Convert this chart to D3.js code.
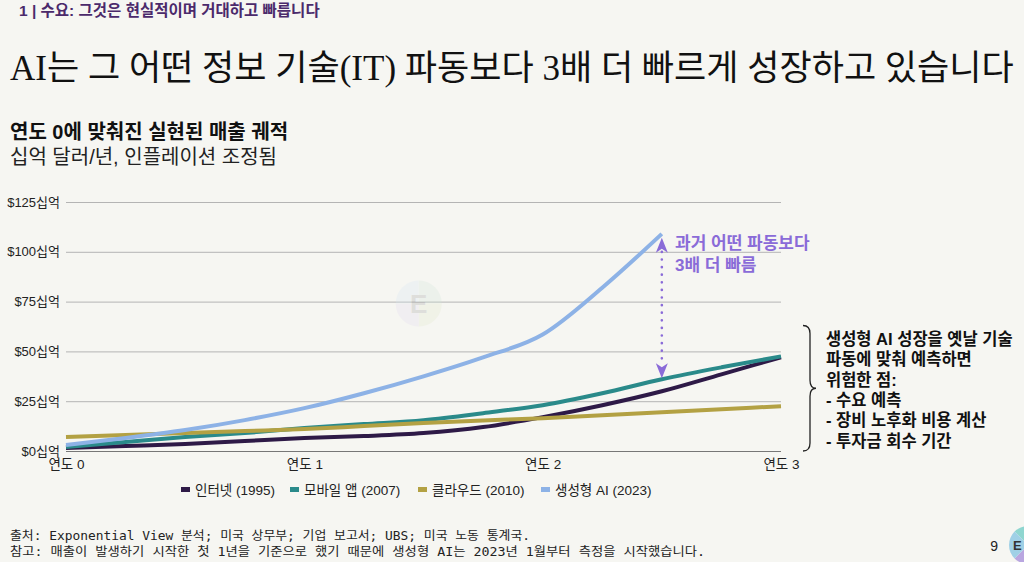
<!DOCTYPE html>
<html>
<head>
<meta charset="utf-8">
<script src="https://cdn.jsdelivr.net/npm/d3@7"></script>
<style>
  html, body { margin: 0; padding: 0; background: #f6f6f2; }
  svg { display: block; }
  text { font-family: "Liberation Sans", "Noto Sans CJK KR", sans-serif; }
</style>
</head>
<body>
<div id="chart"></div>
<script>
// years since revenue start, quarterly
const years = [0, 0.25, 0.5, 0.75, 1, 1.25, 1.5, 1.75, 2, 2.25, 2.5, 2.75, 3];
// $bn / year
const internet = [1.5, 2.5, 3.5, 5, 6.5, 7.5, 9, 12, 17, 23, 30, 38.5, 47];
const mobile   = [2, 4.5, 7, 9, 11.5, 13.5, 15.5, 19, 23, 29, 36, 42, 47.5];
const cloud    = [7, 8, 9, 10, 11, 12.5, 14, 15.3, 16.5, 18, 19.5, 21, 22.5];
const genAI    = [3, 6.5, 10.5, 15.5, 21.5, 29, 37.5, 47, 58.5, 82, 109];

const seriesNames = ["인터넷 (1995)", "모바일 앱 (2007)", "클라우드 (2010)", "생성형 AI (2023)"];
const seriesColors = ["#2e1a47", "#2a8a8a", "#b3a143", "#8db2e6"];
const yTicks = [0, 25, 50, 75, 100, 125];
const xTicks = [0, 1, 2, 3];
const arrowYear = 2.5, arrowTop = 107, arrowBottom = 36.5;
const braceTop = 63, braceBottom = 0;

const W = 1024, H = 562;
const svg = d3.select("#chart").append("svg")
    .attr("width", W).attr("height", H);

svg.append("rect").attr("width", W).attr("height", H).attr("fill", "#f6f6f2");

// header texts
svg.append("text")
    .attr("x", 19).attr("y", 16)
    .attr("font-size", 15.5).attr("font-weight", "bold")
    .attr("fill", "#4b2a6b")
    .text("1 | 수요: 그것은 현실적이며 거대하고 빠릅니다");

const title = svg.append("text")
    .attr("x", 10).attr("y", 80)
    .attr("font-size", 40)
    .attr("fill", "#111")
    .style("font-family", "'Liberation Serif', 'Noto Sans CJK KR', serif")
    .text("AI는 그 어떤 정보 기술(IT) 파동보다 3배 더 빠르게 성장하고 있습니다");
// size the title so it spans the slide width
const tl = title.node().getComputedTextLength();
title.attr("font-size", 40 * 1004 / tl);

svg.append("text")
    .attr("x", 10).attr("y", 139)
    .attr("font-size", 20).attr("font-weight", "bold")
    .attr("fill", "#111")
    .text("연도 0에 맞춰진 실현된 매출 궤적");

svg.append("text")
    .attr("x", 10).attr("y", 164)
    .attr("font-size", 20)
    .attr("fill", "#222")
    .text("십억 달러/년, 인플레이션 조정됨");

// scales
const x = d3.scaleLinear().domain([0, 3]).range([66, 781]);
const y = d3.scaleLinear().domain([0, 125]).range([451, 202]);

// y axis with gridlines
const yAxis = svg.append("g")
    .attr("transform", `translate(${x(0)},0)`)
    .call(d3.axisLeft(y)
        .tickValues(yTicks)
        .tickSize(-(x(3) - x(0)))
        .tickPadding(6)
        .tickFormat(d => `$${d}십억`));
yAxis.select(".domain").remove();
yAxis.selectAll(".tick line")
    .attr("stroke", d => d === 0 ? "#777" : "#b4b4b4")
    .attr("stroke-width", 1);
yAxis.selectAll(".tick text")
    .attr("font-size", 13).attr("fill", "#222")
    .style("font-family", "'Liberation Sans', 'Noto Sans CJK KR', sans-serif");

// x axis
const xAxis = svg.append("g")
    .attr("transform", `translate(0,${y(0)})`)
    .call(d3.axisBottom(x)
        .tickValues(xTicks)
        .tickSize(0)
        .tickPadding(8)
        .tickFormat(d => `연도 ${d}`));
xAxis.select(".domain").remove();
xAxis.selectAll(".tick text")
    .attr("font-size", 13.5).attr("fill", "#222")
    .style("font-family", "'Liberation Sans', 'Noto Sans CJK KR', sans-serif");

// faint watermark
const wm = svg.append("g").attr("opacity", 0.25)
    .attr("transform", `translate(${x(1.48)},${y(74)})`);
const wmCols = ["#cfe6d8", "#dfe7c8", "#e2d7f0", "#d5e6f2"];
d3.pie().value(1)([1, 1, 1, 1]).forEach((p, i) => {
    wm.append("path")
        .attr("d", d3.arc().innerRadius(0).outerRadius(23)(p))
        .attr("fill", wmCols[i]);
});
wm.append("text").attr("text-anchor", "middle").attr("dy", "0.36em")
    .attr("font-size", 26).attr("font-weight", "bold").attr("fill", "#999")
    .text("E");

// lines
const line = d3.line()
    .x((d, i) => x(years[i]))
    .y(d => y(d))
    .curve(d3.curveMonotoneX);

[internet, mobile, cloud, genAI].forEach((vals, i) => {
    svg.append("path")
        .datum(vals)
        .attr("d", line)
        .attr("fill", "none")
        .attr("stroke", seriesColors[i])
        .attr("stroke-width", 4)
        .attr("stroke-linecap", "butt");
});

// dotted double arrow
const ac = "#8a6bd8";
const ax = x(arrowYear);
svg.append("line")
    .attr("x1", ax).attr("x2", ax)
    .attr("y1", y(arrowTop) + 14).attr("y2", y(arrowBottom) - 14)
    .attr("stroke", ac).attr("stroke-width", 2.6)
    .attr("stroke-dasharray", "0.1 7.5").attr("stroke-linecap", "round");
svg.append("path")
    .attr("d", `M${ax},${y(arrowTop)} L${ax - 6},${y(arrowTop) + 15} L${ax},${y(arrowTop) + 11} L${ax + 6},${y(arrowTop) + 15} Z`)
    .attr("fill", ac);
svg.append("path")
    .attr("d", `M${ax},${y(arrowBottom)} L${ax - 6},${y(arrowBottom) - 15} L${ax},${y(arrowBottom) - 11} L${ax + 6},${y(arrowBottom) - 15} Z`)
    .attr("fill", ac);

svg.append("text")
    .attr("x", 675).attr("y", 249)
    .attr("font-size", 17).attr("font-weight", "bold").attr("fill", ac)
    .text("과거 어떤 파동보다");
svg.append("text")
    .attr("x", 675).attr("y", 271)
    .attr("font-size", 17).attr("font-weight", "bold").attr("fill", ac)
    .text("3배 더 빠름");

// curly brace
const bt = y(braceTop), bb = y(braceBottom), bm = (bt + bb) / 2;
const bx = 803;
svg.append("path")
    .attr("d", `M${bx},${bt} Q${bx + 7},${bt} ${bx + 7},${bt + 8} L${bx + 7},${bm - 8} Q${bx + 7},${bm} ${bx + 13},${bm}`
        + ` Q${bx + 7},${bm} ${bx + 7},${bm + 8} L${bx + 7},${bb - 8} Q${bx + 7},${bb} ${bx},${bb}`)
    .attr("fill", "none").attr("stroke", "#222").attr("stroke-width", 1.3);

const riskLines = ["생성형 AI 성장을 옛날 기술", "파동에 맞춰 예측하면", "위험한 점:",
    "-  수요 예측", "-  장비 노후화 비용 계산", "-  투자금 회수 기간"];
svg.append("g").selectAll("text")
    .data(riskLines)
    .join("text")
    .attr("x", 826)
    .attr("y", (d, i) => 345 + i * 20.3)
    .attr("font-size", 16.5).attr("font-weight", "bold").attr("fill", "#111")
    .text(d => d);

// legend
const legendX = [181, 290, 418, 541];
const lg = svg.append("g");
seriesNames.forEach((n, i) => {
    lg.append("rect")
        .attr("x", legendX[i]).attr("y", 487)
        .attr("width", 9).attr("height", 5)
        .attr("fill", seriesColors[i]);
    lg.append("text")
        .attr("x", legendX[i] + 14).attr("y", 494.5)
        .attr("font-size", 13.5).attr("fill", "#222")
        .text(n);
});

// footer
svg.append("text")
    .attr("x", 10).attr("y", 540)
    .attr("font-size", 12).attr("fill", "#222")
    .style("font-family", "'DejaVu Sans Mono', 'Noto Sans CJK KR', monospace")
    .attr("textLength", 520).attr("lengthAdjust", "spacingAndGlyphs")
    .text("출처: Exponential View 분석; 미국 상무부; 기업 보고서; UBS; 미국 노동 통계국.");
svg.append("text")
    .attr("x", 10).attr("y", 556)
    .attr("font-size", 12).attr("fill", "#222")
    .style("font-family", "'DejaVu Sans Mono', 'Noto Sans CJK KR', monospace")
    .attr("textLength", 695).attr("lengthAdjust", "spacingAndGlyphs")
    .text("참고: 매출이 발생하기 시작한 첫 1년을 기준으로 했기 때문에 생성형 AI는 2023년 1월부터 측정을 시작했습니다.");

// page number and logo
svg.append("text")
    .attr("x", 998).attr("y", 551)
    .attr("text-anchor", "end")
    .attr("font-size", 14).attr("fill", "#222")
    .text("9");
const logo = svg.append("g").attr("transform", "translate(1028,545)");
const logoCols = ["#8fd6d0", "#cfe3a0", "#b9a6e0", "#9fd0e6"];
d3.pie().value(1).startAngle(-Math.PI / 4).endAngle(Math.PI * 7 / 4)([1, 1, 1, 1]).forEach((p, i) => {
    logo.append("path")
        .attr("d", d3.arc().innerRadius(0).outerRadius(19)(p))
        .attr("fill", logoCols[i]);
});
logo.append("text").attr("x", -15).attr("dy", "0.36em")
    .attr("font-size", 13).attr("font-weight", "bold").attr("fill", "#333")
    .text("E");
</script>
</body>
</html>
